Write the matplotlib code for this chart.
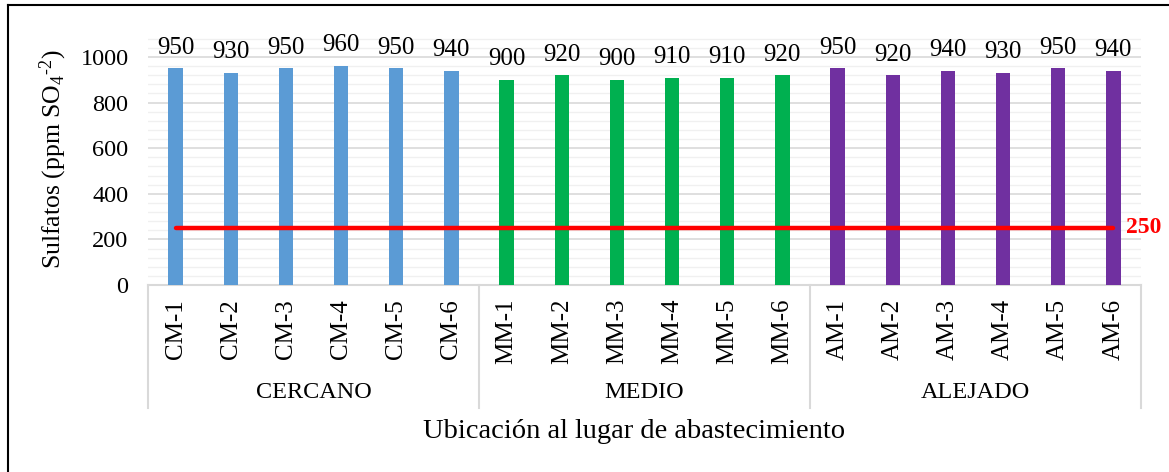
import matplotlib
matplotlib.use("Agg")
import matplotlib.pyplot as plt
from matplotlib.lines import Line2D
from matplotlib.ticker import MultipleLocator
import matplotlib.transforms as mtransforms

plt.rcParams['font.family'] = ['Liberation Serif', 'DejaVu Serif']
plt.rcParams['mathtext.fontset'] = 'custom'
plt.rcParams['mathtext.rm'] = 'Liberation Serif'
plt.rcParams['mathtext.it'] = 'Liberation Serif:italic'

# data
groups = ["CERCANO", "MEDIO", "ALEJADO"]
cercano_labels = ["CM-1", "CM-2", "CM-3", "CM-4", "CM-5", "CM-6"]
medio_labels = ["MM-1", "MM-2", "MM-3", "MM-4", "MM-5", "MM-6"]
alejado_labels = ["AM-1", "AM-2", "AM-3", "AM-4", "AM-5", "AM-6"]
cercano_vals = [950, 930, 950, 960, 950, 940]
medio_vals = [900, 920, 900, 910, 910, 920]
alejado_vals = [950, 920, 940, 930, 950, 940]
limite = 250

colors = ["#5B9BD5", "#00B050", "#7030A0"]

fig = plt.figure(figsize=(11.69, 4.72), dpi=100)
ax = fig.add_axes([148 / 1169, 1 - 285 / 472, 993 / 1169, (285 - 34.2) / 472])

all_labels = []
pos = 0
for labels, vals, c in zip([cercano_labels, medio_labels, alejado_labels],
                           [cercano_vals, medio_vals, alejado_vals], colors):
    xs = list(range(pos, pos + len(vals)))
    ax.bar(xs, vals, width=0.26, color=c, zorder=3)
    for x, v in zip(xs, vals):
        ax.annotate(str(v), (x, v), xytext=(0, 7), textcoords="offset points",
                    ha="center", va="bottom", fontsize=18, annotation_clip=False)
    all_labels += labels
    pos += len(vals)

n = len(all_labels)
ax.plot([0, n - 1], [limite, limite], color="#FF0000", lw=3.2,
        solid_capstyle="round", zorder=4)
ax.text(n - 1 + 0.22, limite, str(limite), color="#FF0000", fontsize=17,
        fontweight="bold", ha="left", va="center", clip_on=False)

ax.set_xlim(-0.5, n - 0.5)
ax.set_ylim(0, 1100)
ax.yaxis.set_major_locator(MultipleLocator(200))
ax.yaxis.set_minor_locator(MultipleLocator(40))
ax.set_yticks(range(0, 1001, 200))
ax.grid(axis="y", which="major", color="#D9D9D9", lw=1.2, zorder=0)
ax.grid(axis="y", which="minor", color="#F0F0F0", lw=1.0, zorder=0)
ax.tick_params(axis="y", which="both", length=0, labelsize=17.5, pad=14)
ax.set_xticks(range(n))
ax.set_xticklabels(all_labels, rotation=90, fontsize=18)
ax.tick_params(axis="x", length=0, pad=10)
for s in ["top", "right", "left"]:
    ax.spines[s].set_visible(False)
ax.spines["bottom"].set_color("#D9D9D9")
ax.spines["bottom"].set_linewidth(1.5)

# category boxes below axis
trans = mtransforms.blended_transform_factory(ax.transData, ax.transAxes)
for i in range(len(groups) + 1):
    ax.add_line(Line2D([i * 6 - 0.5, i * 6 - 0.5], [0, -0.49], transform=trans,
                       color="#D9D9D9", lw=1.5, clip_on=False))
for i, g in enumerate(groups):
    ax.text(i * 6 + 2.5, -0.43, g, transform=trans, ha="center", va="center",
            fontsize=17.5)

ax.set_ylabel("Sulfatos (ppm SO$_4$$^{\\text{-2}}$)", fontsize=18.5, labelpad=8)
fig.text(634 / 1169, 1 - 432 / 472,
         "Ubicación al lugar de abastecimiento", ha="center", va="center",
         fontsize=20.5)

# outer frame (left and top edges)
fig.add_artist(Line2D([8 / 1169, 8 / 1169], [0, 1 - 5 / 472], transform=fig.transFigure,
                      color="black", lw=1.5))
fig.add_artist(Line2D([8 / 1169, 1], [1 - 5 / 472, 1 - 5 / 472], transform=fig.transFigure,
                      color="black", lw=1.5))

fig.savefig("out.png", dpi=100)
